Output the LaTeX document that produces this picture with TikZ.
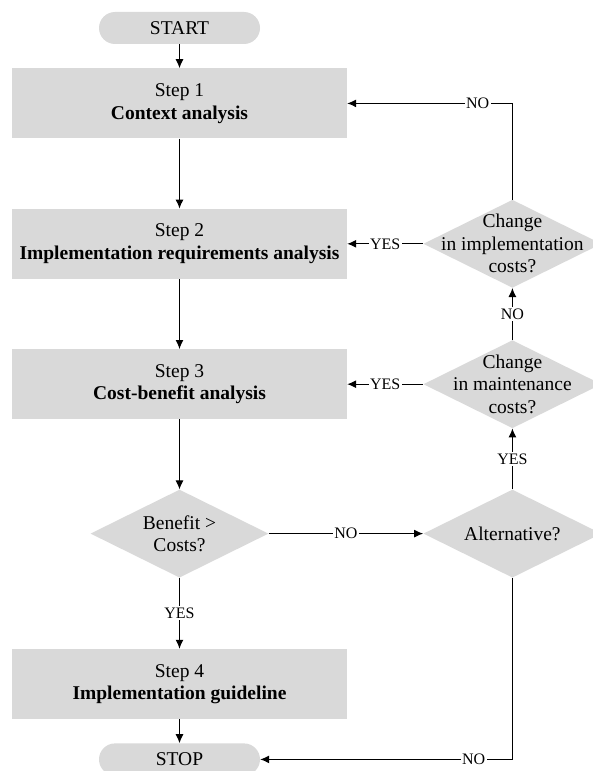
\documentclass[tikz,border=0pt]{standalone}
\usepackage{fontspec}
\setmainfont{Liberation Serif}
\usetikzlibrary{positioning,shapes.geometric,arrows.meta}
\definecolor{boxgray}{RGB}{217,217,217}

\begin{document}
\begin{tikzpicture}[x=1bp,y=1bp,font=\fontsize{19.5bp}{22.5bp}\selectfont]
    \tikzset{terminal/.style = {fill=boxgray, rounded corners=16bp, minimum width=161bp, minimum height=32bp, inner sep=0pt}}
    \tikzset{stepbox/.style = {fill=boxgray, minimum width=335bp, minimum height=70bp, inner sep=0pt, align=center}}
    \tikzset{decision/.style = {diamond, fill=boxgray, minimum width=178bp, minimum height=88bp, inner sep=0pt}}
    \tikzset{qtext/.style = {align=center}}
    \tikzset{arr/.style = {line width=1.1bp, -{Latex[length=9bp,width=8bp]}}}
    \tikzset{lbl/.style = {fill=white, inner sep=1.5bp, font=\fontsize{16bp}{18bp}\selectfont}}
    \useasboundingbox (0,0) rectangle (593,-771);
    \node[terminal] (start) at (179.5,-28) {START};
    \node[stepbox, below=24bp of start] (s1) {Step 1\\\textbf{Context analysis}};
    \node[stepbox, below=70bp of s1] (s2) {Step 2\\\textbf{Implementation requirements analysis}};
    \node[stepbox, below=70bp of s2] (s3) {Step 3\\\textbf{Cost-benefit analysis}};
    \node[decision, below=70bp of s3, label={[qtext]center:Benefit >\\Costs?}] (bc) {};
    \node[stepbox, below=71bp of bc] (s4) {Step 4\\\textbf{Implementation guideline}};
    \node[terminal, below=24bp of s4] (stop) {STOP};
    \node[decision, right=76bp of s2, label={[qtext]center:Change\\in implementation\\costs?}] (cimpl) {};
    \node[decision, right=76bp of s3, label={[qtext]center:Change\\in maintenance\\costs?}] (cmaint) {};
    \node[decision, right=154.5bp of bc, label={[qtext]center:Alternative?}] (alt) {};
    \draw[arr] (start) -- (s1);
    \draw[arr] (s1) -- (s2);
    \draw[arr] (s2) -- (s3);
    \draw[arr] (s3) -- (bc);
    \draw[arr] (bc) -- node[lbl] {YES} (s4);
    \draw[arr] (s4) -- (stop);
    \draw[arr] (bc) -- node[lbl] {NO} (alt);
    \draw[arr] (alt) -- node[lbl] {YES} (cmaint);
    \draw[arr] (cmaint) -- node[lbl] {NO} (cimpl);
    \draw[arr] (cmaint) -- node[lbl] {YES} (s3);
    \draw[arr] (cimpl) -- node[lbl] {YES} (s2);
    \draw[arr] (cimpl.north) |- node[lbl, pos=0.605] {NO} (s1.east);
    \draw[arr] (alt.south) |- node[lbl, pos=0.577] {NO} (stop.east);
\end{tikzpicture}
\end{document}
